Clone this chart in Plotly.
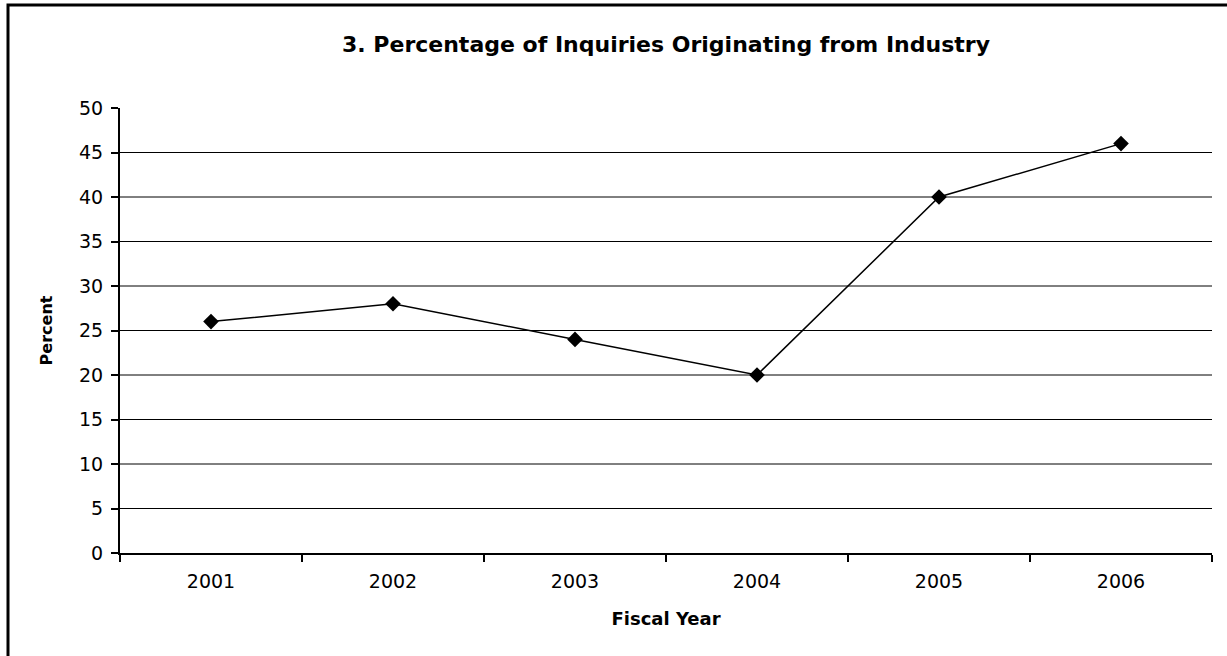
import plotly.graph_objects as go

years = ["2001", "2002", "2003", "2004", "2005", "2006"]
percent = [26, 28, 24, 20, 40, 46]
y_ticks = [0, 5, 10, 15, 20, 25, 30, 35, 40, 45, 50]
grid_vals = [5, 10, 15, 20, 25, 30, 35, 40, 45]

FONT = "DejaVu Sans"

fig = go.Figure()
fig.add_trace(go.Scatter(
    x=years, y=percent, mode="lines+markers",
    line=dict(color="black", width=1.5),
    marker=dict(symbol="diamond", size=12, color="black"),
    showlegend=False,
))

fig.update_layout(
    width=1227, height=656,
    margin=dict(l=120, r=15, t=108, b=103),
    paper_bgcolor="white", plot_bgcolor="white",
    font=dict(family=FONT, color="black"),
    title=dict(
        text="<b>3. Percentage of Inquiries Originating from Industry</b>",
        x=0.5, xref="paper", xanchor="center",
        y=1 - 44 / 656, yref="container", yanchor="middle",
        font=dict(family=FONT, size=22, color="black"),
    ),
    xaxis=dict(
        type="category", tickson="boundaries", range=[-0.5, 5.5],
        ticks="outside", ticklen=7, tickwidth=2, tickcolor="black",
        showline=True, linecolor="black", linewidth=2,
        showgrid=False, zeroline=False,
        tickfont=dict(family=FONT, size=19, color="black"),
        ticklabelstandoff=10,
        title=dict(text="<b>Fiscal Year</b>", standoff=22,
                   font=dict(family=FONT, size=18, color="black")),
    ),
    yaxis=dict(
        range=[0, 50], tickvals=y_ticks,
        ticks="outside", ticklen=7, tickwidth=2, tickcolor="black",
        showline=True, linecolor="black", linewidth=2,
        showgrid=False, zeroline=False,
        tickfont=dict(family=FONT, size=19, color="black"),
        ticklabelstandoff=4,
        title=dict(text="<b>Percent</b>", standoff=22,
                   font=dict(family=FONT, size=16, color="black")),
    ),
)

for v in grid_vals:
    fig.add_hline(y=v, line=dict(color="black", width=1), layer="below")

fig.add_shape(
    type="rect", xref="paper", yref="paper",
    x0=(8 - 120) / 1092, x1=1.06,
    y0=-0.4, y1=(553 - 5) / 445,
    line=dict(color="black", width=3), layer="below",
)

fig.write_html("out.html")
